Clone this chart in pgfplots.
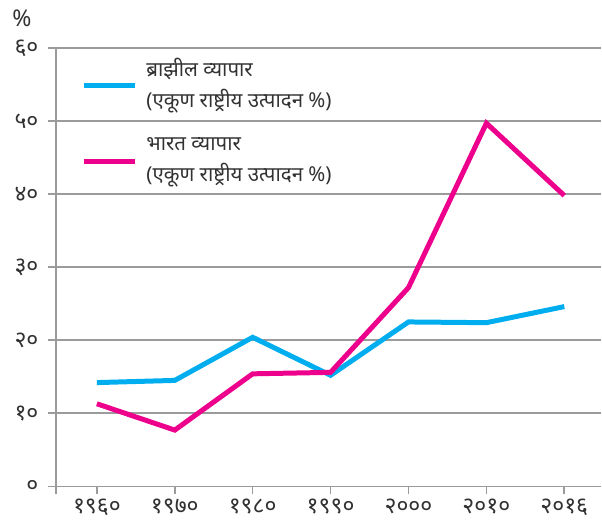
\documentclass[border=0pt]{standalone}
\usepackage{fontspec}
\setmainfont[Script=Devanagari]{Noto Sans}
\usepackage{pgfplots}
\pgfplotsset{compat=1.18}
\definecolor{brcyan}{RGB}{0,174,239}
\definecolor{inmag}{RGB}{236,0,140}
\definecolor{gridgray}{RGB}{155,155,155}
\definecolor{txt}{RGB}{50,50,50}
\begin{document}
\begin{tikzpicture}
\begin{axis}[
  name=ax,
  scale only axis,
  width=546pt, height=439pt,
  xmin=-0.526, xmax=6.474,
  ymin=0, ymax=60,
  axis lines*=left,
  axis line style={gridgray, line width=1.6pt, -},
  xtick={0,...,6},
  xticklabels={१९६०,१९७०,१९८०,१९९०,२०००,२०१०,२०१६},
  extra x ticks={-0.526},
  extra x tick labels={},
  ytick={0,10,...,60},
  yticklabels={०,१०,२०,३०,४०,५०,६०},
  tick align=outside,
  major tick length=8pt,
  tick style={gridgray, line width=1.6pt},
  ymajorgrids,
  grid style={gridgray, line width=1.6pt},
  tick label style={font=\fontsize{23}{25}\selectfont, text=txt},
  yticklabel style={xshift=-6pt},
  xticklabel style={yshift=-1pt},
  clip=false,
]
% Brazil trade (% of GDP)
\addplot[brcyan, line width=5pt] coordinates {
  (0,14.2) (1,14.5) (2,20.4) (3,15.2) (4,22.5) (5,22.4) (6,24.6)
};
% India trade (% of GDP)
\addplot[inmag, line width=5pt] coordinates {
  (0,11.3) (1,7.7) (2,15.4) (3,15.6) (4,27.2) (5,49.7) (6,39.8)
};
% legend
\draw[brcyan, line width=5pt] (axis cs:-0.167,54.8) -- (axis cs:0.487,54.8);
\node[anchor=west, align=left, text=txt, font=\fontsize{20.5}{31}\selectfont]
  at (axis cs:0.59,54.8) {ब्राझील व्यापार\\(एकूण राष्ट्रीय उत्पादन \%)};
\draw[inmag, line width=5pt] (axis cs:-0.167,44.4) -- (axis cs:0.487,44.4);
\node[anchor=west, align=left, text=txt, font=\fontsize{20.5}{31}\selectfont]
  at (axis cs:0.59,44.4) {भारत व्यापार\\(एकूण राष्ट्रीय उत्पादन \%)};
\end{axis}
\node[text=txt, font=\fontsize{23}{25}\selectfont] at ([xshift=-34pt,yshift=30pt]ax.north west) {\%};
\path[use as bounding box] ([xshift=-56pt,yshift=-35pt]ax.south west) rectangle ([yshift=48pt]ax.north east);
\end{tikzpicture}
\end{document}
